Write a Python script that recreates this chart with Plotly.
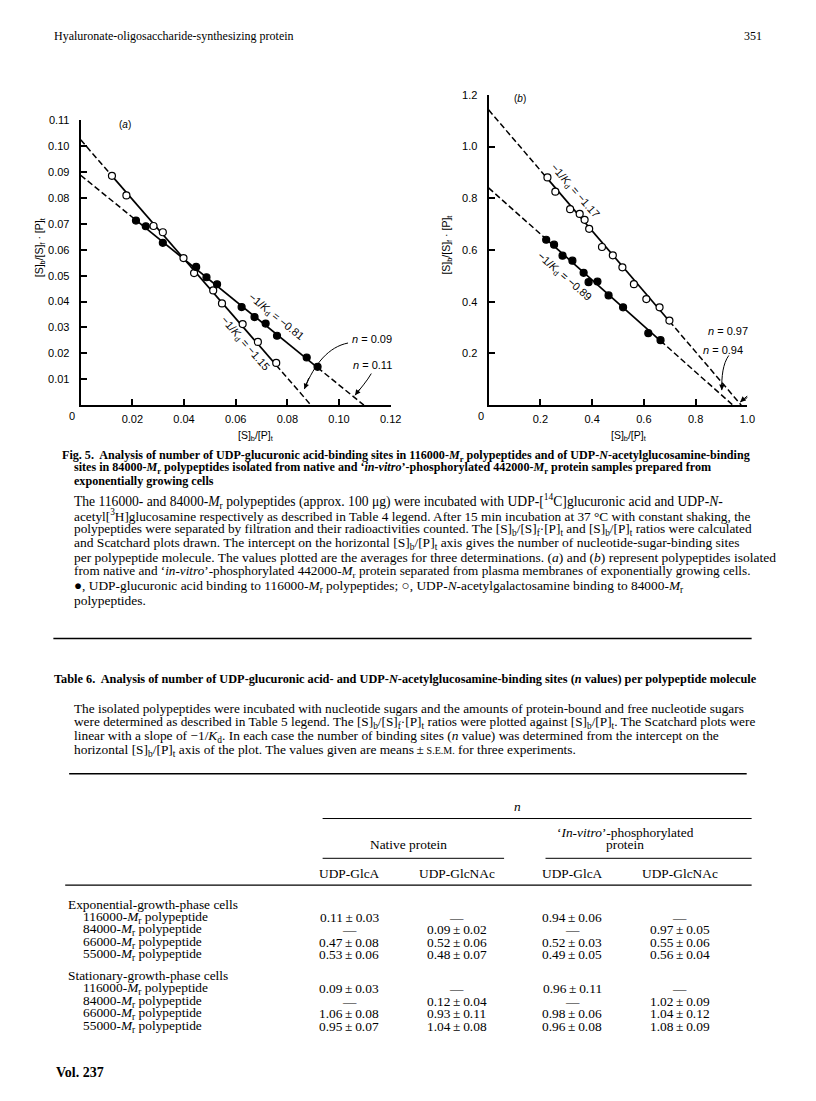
import plotly.graph_objects as go

PAGE_W, PAGE_H = 816, 1101
MARGIN = 8                       # default <body> margin of the html page
W, H = PAGE_W - 2 * MARGIN, PAGE_H - 2 * MARGIN - 1
SERIF = "Liberation Serif"
SANS = "Liberation Sans"

# ---------------- Data: panel (a) ----------------
a_open_x = [0.0121, 0.0177, 0.0282, 0.0318, 0.0398, 0.0439, 0.0513, 0.0547, 0.0627, 0.0686, 0.0757]
a_open_y = [0.0886, 0.0810, 0.0692, 0.0668, 0.0568, 0.0510, 0.0443, 0.0393, 0.0313, 0.0244, 0.0163]
a_filled_x = [0.0214, 0.0252, 0.0318, 0.0447, 0.0487, 0.0528, 0.0623, 0.0673, 0.0716, 0.0760, 0.0875, 0.0917]
a_filled_y = [0.0713, 0.0691, 0.0627, 0.0534, 0.0494, 0.0467, 0.0379, 0.0340, 0.0315, 0.0268, 0.0184, 0.0148]
a_open_fit = (0.1025, -1.15)    # (y-intercept, slope)
a_filled_fit = (0.0888, -0.81)

# ---------------- Data: panel (b) ----------------
b_open_x = [0.2274, 0.2579, 0.3150, 0.3520, 0.3710, 0.3886, 0.4381, 0.4800, 0.5170, 0.5615, 0.6095, 0.6606, 0.6987]
b_open_y = [0.8808, 0.8254, 0.7577, 0.7396, 0.7165, 0.6819, 0.6115, 0.5792, 0.5331, 0.4677, 0.4100, 0.3781, 0.3269]
b_filled_x = [0.2225, 0.2530, 0.2857, 0.3238, 0.3672, 0.3863, 0.4206, 0.4636, 0.5196, 0.6171, 0.6644]
b_filled_y = [0.6396, 0.6204, 0.5781, 0.5588, 0.5115, 0.4754, 0.4781, 0.4242, 0.3781, 0.2781, 0.2512]
b_open_fit = (1.142, -1.17)
b_filled_fit = (0.840, -0.89)

a_y_ticks = [0.01, 0.02, 0.03, 0.04, 0.05, 0.06, 0.07, 0.08, 0.09, 0.10, 0.11]
a_x_ticks = [0.02, 0.04, 0.06, 0.08, 0.10, 0.12]
b_y_ticks = [0.2, 0.4, 0.6, 0.8, 1.0, 1.2]
b_x_ticks = [0.2, 0.4, 0.6, 0.8, 1.0]

# ---------------- Data: Table 6 ----------------
row_names = ["116000-<i>M</i><sub>r</sub> polypeptide", "84000-<i>M</i><sub>r</sub> polypeptide",
             "66000-<i>M</i><sub>r</sub> polypeptide", "55000-<i>M</i><sub>r</sub> polypeptide"]
group_names = ["Exponential-growth-phase cells", "Stationary-growth-phase cells"]
col_names = ["UDP-GlcA", "UDP-GlcNAc", "UDP-GlcA", "UDP-GlcNAc"]
exp_native_glca = [(0.11, 0.03), None, (0.47, 0.08), (0.53, 0.06)]
exp_native_glcnac = [None, (0.09, 0.02), (0.52, 0.06), (0.48, 0.07)]
exp_phos_glca = [(0.94, 0.06), None, (0.52, 0.03), (0.49, 0.05)]
exp_phos_glcnac = [None, (0.97, 0.05), (0.55, 0.06), (0.56, 0.04)]
stat_native_glca = [(0.09, 0.03), None, (1.06, 0.08), (0.95, 0.07)]
stat_native_glcnac = [None, (0.12, 0.04), (0.93, 0.11), (1.04, 0.08)]
stat_phos_glca = [(0.96, 0.11), None, (0.98, 0.06), (0.96, 0.08)]
stat_phos_glcnac = [None, (1.02, 0.09), (1.04, 0.12), (1.08, 0.09)]


def px(x):
    return (x - MARGIN) / W


def py(y):
    return 1 - (y - MARGIN) / H


fig = go.Figure()


def add_fit(xs, fit, xa, ya):
    b, m = fit
    xint = -b / m
    x0, x1 = min(xs), max(xs)
    fig.add_trace(go.Scatter(x=[0, x0, None, x1, xint], y=[b, b + m * x0, None, b + m * x1, 0],
                             mode="lines", line=dict(color="black", width=1.5, dash="6px,3px"),
                             xaxis=xa, yaxis=ya, hoverinfo="skip", cliponaxis=False))
    fig.add_trace(go.Scatter(x=[x0, x1], y=[b + m * x0, b + m * x1], mode="lines",
                             line=dict(color="black", width=1.7), xaxis=xa, yaxis=ya,
                             hoverinfo="skip", cliponaxis=False))


def add_pts(xs, ys, filled, xa, ya):
    fig.add_trace(go.Scatter(x=xs, y=ys, mode="markers", xaxis=xa, yaxis=ya, cliponaxis=False,
                             marker=dict(symbol="circle", size=7,
                                         color="black" if filled else "white",
                                         line=dict(color="black", width=1.2))))


add_fit(a_open_x, a_open_fit, "x", "y")
add_fit(a_filled_x, a_filled_fit, "x", "y")
add_pts(a_open_x, a_open_y, False, "x", "y")
add_pts(a_filled_x, a_filled_y, True, "x", "y")
add_fit(b_open_x, b_open_fit, "x2", "y2")
add_fit(b_filled_x, b_filled_fit, "x2", "y2")
add_pts(b_open_x, b_open_y, False, "x2", "y2")
add_pts(b_filled_x, b_filled_y, True, "x2", "y2")

axis_common = dict(showline=True, linecolor="black", linewidth=2, ticks="inside", ticklen=6,
                   tickwidth=2, tickcolor="black", showgrid=False, zeroline=False,
                   tickfont=dict(family=SANS, size=11, color="black"))

fig.update_layout(
    width=W, height=H, margin=dict(l=0, r=0, t=0, b=0),
    paper_bgcolor="white", plot_bgcolor="white", showlegend=False,
    xaxis=dict(domain=[px(81.7), px(396)], range=[0, 0.12], anchor="y",
               tickvals=a_x_ticks, ticktext=["%.2f" % v for v in a_x_ticks], ticklabelstandoff=3,
               **axis_common),
    yaxis=dict(domain=[py(401.3), py(115)], range=[0, 0.11], anchor="x",
               tickvals=a_y_ticks, ticktext=["%.2f" % v for v in a_y_ticks], ticklabelstandoff=7,
               **axis_common),
    xaxis2=dict(domain=[px(495.3), px(757.7)], range=[0, 1.0], anchor="y2",
                tickvals=b_x_ticks, ticktext=["%.1f" % v for v in b_x_ticks], ticklabelstandoff=3,
                **axis_common),
    yaxis2=dict(domain=[py(401.3), py(89.3)], range=[0, 1.2], anchor="x2",
                tickvals=b_y_ticks, ticktext=["%.1f" % v for v in b_y_ticks], ticklabelstandoff=7,
                **axis_common),
)

ann = []


def dtext(xr, yr, x, y, s, angle=0, size=11):
    ann.append(dict(xref=xr, yref=yr, x=x, y=y, text=s, showarrow=False, textangle=angle,
                    font=dict(family=SANS, size=size, color="black"),
                    xanchor="center", yanchor="middle"))


# origin "0" labels
dtext("x", "paper", 0, py(412), "0")
ann[-1]["xshift"] = -9
dtext("x2", "paper", 0, py(412), "0")
ann[-1]["xshift"] = -8

# panel labels
dtext("x", "y", 0.0173, 0.1085, "(<i>a</i>)", size=10)
dtext("x2", "y2", 0.1197, 1.185, "(<i>b</i>)", size=10)

# slope labels
kd = "\u22121/<i>K</i><sub>d</sub> = \u2212%.2f"
dtext("x", "y", 0.0755, 0.0340, kd % 0.81, angle=39)
dtext("x", "y", 0.0636, 0.0236, kd % 1.15, angle=49)
dtext("x2", "y2", 0.332, 0.828, kd % 1.17, angle=49)
dtext("x2", "y2", 0.292, 0.494, kd % 0.89, angle=41)

# n labels
dtext("x", "y", 0.1128, 0.0254, "<i>n</i> = 0.09")
dtext("x", "y", 0.1128, 0.0155, "<i>n</i> = 0.11")
dtext("x2", "y2", 0.924, 0.287, "<i>n</i> = 0.97")
dtext("x2", "y2", 0.905, 0.212, "<i>n</i> = 0.94")

shapes = []


def curved_arrow(xr, yr, tail, c1, c2, head, back):
    shapes.append(dict(type="path", xref=xr, yref=yr,
                       path="M %f,%f C %f,%f %f,%f %f,%f" % (tail + c1 + c2 + head),
                       line=dict(color="black", width=1)))
    ann.append(dict(xref=xr, yref=yr, axref=xr, ayref=yr, x=head[0], y=head[1], ax=back[0],
                    ay=back[1], text="", showarrow=True, arrowhead=2, arrowsize=1.1,
                    arrowwidth=1, arrowcolor="black", standoff=0))


curved_arrow("x", "y", (0.1035, 0.0240), (0.0960, 0.0225), (0.0905, 0.0160), (0.0866, 0.0062), (0.0885, 0.0110))
curved_arrow("x", "y", (0.1125, 0.0122), (0.1110, 0.0095), (0.1080, 0.0060), (0.1062, 0.0038), (0.1085, 0.0068))
curved_arrow("x2", "y2", (1.009, 0.287), (1.060, 0.240), (1.080, 0.060), (0.972, 0.012), (1.005, 0.040))
curved_arrow("x2", "y2", (0.928, 0.192), (0.905, 0.160), (0.900, 0.110), (0.901, 0.058), (0.902, 0.090))

# axis titles
ylab = "[S]<sub>b</sub>/[S]<sub>f</sub> \u00b7 [P]<sub>t</sub>"
xlab = "[S]<sub>b</sub>/[P]<sub>t</sub>"
for (x, y, s, a) in [(40, 243, ylab, -90), (453, 240, ylab, -90), (259, 432, xlab, 0), (637, 432, xlab, 0)]:
    ann.append(dict(xref="paper", yref="paper", x=px(x), y=py(y), text=s, showarrow=False,
                    textangle=a, font=dict(family=SANS, size=10.5, color="black"),
                    xanchor="center", yanchor="middle"))


def ptext(x, y, s, size=13.4, anchor="left", bold=False):
    if bold:
        s = "<b>" + s + "</b>"
    ann.append(dict(xref="paper", yref="paper", x=px(x), y=py(y), text=s, showarrow=False,
                    font=dict(family=SERIF, size=size, color="black"),
                    xanchor=anchor, yanchor="middle", borderpad=0))


Mr = "<i>M</i><sub>r</sub>"
ptext(54, 30, "Hyaluronate-oligosaccharide-synthesizing protein", size=12)
ptext(774, 30, "351", size=12, anchor="right")

cap = [
    (62, "Fig. 5.  Analysis of number of UDP-glucuronic acid-binding sites in 116000-" + Mr +
     " polypeptides and of UDP-<i>N</i>-acetylglucosamine-binding"),
    (74, "sites in 84000-" + Mr + " polypeptides isolated from native and \u2018<i>in-vitro</i>\u2019-phosphorylated 442000-" +
     Mr + " protein samples prepared from"),
    (74, "exponentially growing cells"),
]
for i, (x, s) in enumerate(cap):
    ptext(x, 452 + 12.8 * i, s, size=12.1, bold=True)

body = [
    "The 116000- and 84000-" + Mr + " polypeptides (approx. 100 \u03bcg) were incubated with UDP-[<sup>14</sup>C]glucuronic acid and UDP-<i>N</i>-",
    "acetyl[<sup>3</sup>H]glucosamine respectively as described in Table 4 legend. After 15 min incubation at 37 \u00b0C with constant shaking, the",
    "polypeptides were separated by filtration and their radioactivities counted. The [S]<sub>b</sub>/[S]<sub>f</sub>\u00b7[P]<sub>t</sub> and [S]<sub>b</sub>/[P]<sub>t</sub> ratios were calculated",
    "and Scatchard plots drawn. The intercept on the horizontal [S]<sub>b</sub>/[P]<sub>t</sub> axis gives the number of nucleotide-sugar-binding sites",
    "per polypeptide molecule. The values plotted are the averages for three determinations. (<i>a</i>) and (<i>b</i>) represent polypeptides isolated",
    "from native and \u2018<i>in-vitro</i>\u2019-phosphorylated 442000-" + Mr + " protein separated from plasma membranes of exponentially growing cells.",
    "\u25cf, UDP-glucuronic acid binding to 116000-" + Mr + " polypeptides; \u25cb, UDP-<i>N</i>-acetylgalactosamine binding to 84000-" + Mr,
    "polypeptides.",
]
body_sizes = [13.6, 13.3, 13.3, 13.5, 13.5, 13.2, 13.4, 13.4]
for i, (s, fs) in enumerate(zip(body, body_sizes)):
    ptext(74, 498 + 14.2 * i, s, size=fs)

ptext(54, 677, "Table 6.  Analysis of number of UDP-glucuronic acid- and UDP-<i>N</i>-acetylglucosamine-binding sites (<i>n</i> values) per polypeptide molecule",
      size=12.3, bold=True)
legend = [
    "The isolated polypeptides were incubated with nucleotide sugars and the amounts of protein-bound and free nucleotide sugars",
    "were determined as described in Table 5 legend. The [S]<sub>b</sub>/[S]<sub>f</sub>\u00b7[P]<sub>t</sub> ratios were plotted against [S]<sub>b</sub>/[P]<sub>t</sub>. The Scatchard plots were",
    "linear with a slope of \u22121/<i>K</i><sub>d</sub>. In each case the number of binding sites (<i>n</i> value) was determined from the intercept on the",
    "horizontal [S]<sub>b</sub>/[P]<sub>t</sub> axis of the plot. The values given are means\u2009\u00b1\u2009<span style='font-size:10px'>S.E.M.</span> for three experiments.",
]
legend_sizes = [13.3, 13.3, 13.4, 13.4]
for i, (s, fs) in enumerate(zip(legend, legend_sizes)):
    ptext(74, 706 + 14.2 * i, s, size=fs)

# table
ptext(525, 805, "<i>n</i>", anchor="center")
ptext(414, 843, "Native protein", anchor="center")
ptext(634, 831, "\u2018<i>In-vitro</i>\u2019-phosphorylated", anchor="center")
ptext(634, 843.5, "protein", anchor="center")
col_x = [354, 463, 580, 689]
for cx, s in zip(col_x, col_names):
    ptext(cx, 872, s, anchor="center")

columns_exp = [exp_native_glca, exp_native_glcnac, exp_phos_glca, exp_phos_glcnac]
columns_stat = [stat_native_glca, stat_native_glcnac, stat_phos_glca, stat_phos_glcnac]
for g, (gname, cols) in enumerate(zip(group_names, [columns_exp, columns_stat])):
    gy = 903.5 + 71.5 * g
    ptext(68, gy, gname)
    for r, rname in enumerate(row_names):
        ry = gy + 12.9 + 12.6 * r
        ptext(83, ry, rname)
        for cx, col in zip(col_x, cols):
            v = col[r]
            s = "\u2014" if v is None else "%.2f\u2009\u00b1\u2009%.2f" % v
            ptext(cx, ry, s, anchor="center")

ptext(56, 1072, "<b>Vol. 237</b>", size=14)


def rule(x0, x1, y, w=1):
    shapes.append(dict(type="line", xref="paper", yref="paper", x0=px(x0), x1=px(x1),
                       y0=py(y), y1=py(y), line=dict(color="black", width=w)))


rule(54, 762, 636, 1.5)
rule(70, 757, 772, 1.3)
rule(327, 762, 817, 1)
rule(327, 511, 857, 1)
rule(553, 762, 857, 1)
rule(66, 762, 884, 1.3)

fig.update_layout(annotations=ann, shapes=shapes)
fig.write_html("out.html")
